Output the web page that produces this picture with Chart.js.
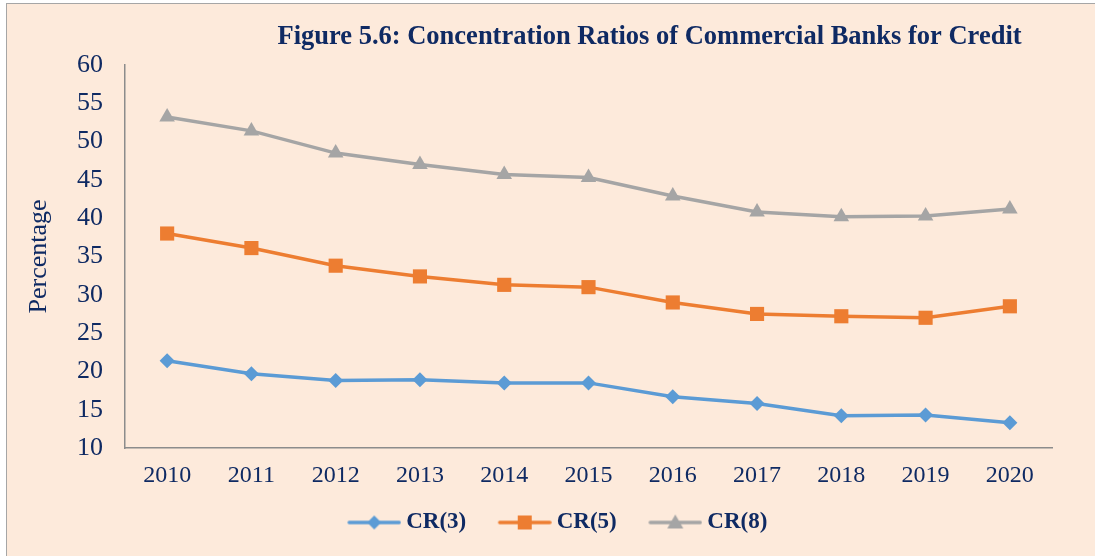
<!DOCTYPE html>
<html>
<head>
<meta charset="utf-8">
<script src="https://cdn.jsdelivr.net/npm/chart.js@4"></script>
<style>
  html, body { margin: 0; padding: 0; background: #ffffff; }
  #box {
    position: absolute; left: 6px; top: 3px;
    width: 1089px; height: 553px;
    border-top: 1px solid #a6a6a6; border-left: 1px solid #a6a6a6;
    background: #fdeadb;
  }
</style>
</head>
<body>
<div id="box"><canvas id="chartCR"></canvas></div>
<script>
const years = ['2010', '2011', '2012', '2013', '2014', '2015', '2016', '2017', '2018', '2019', '2020'];
const cr3 = [21.4, 19.7, 18.8, 18.9, 18.5, 18.5, 16.7, 15.8, 14.2, 14.3, 13.3];
const cr5 = [38.0, 36.1, 33.8, 32.4, 31.3, 31.0, 29.0, 27.5, 27.2, 27.0, 28.5];
const cr8 = [53.2, 51.4, 48.5, 47.0, 45.7, 45.3, 42.9, 40.8, 40.2, 40.3, 41.2];
const seriesNames = ['CR(3)', 'CR(5)', 'CR(8)'];
const yTicks = [10, 15, 20, 25, 30, 35, 40, 45, 50, 55, 60];

const navy = '#0f2a63';
const blue = '#5b9bd5', orange = '#ed7d31', grey = '#a5a5a5';

// little line + marker pictures for the legend (transparent strip on the left)
function legendIcon(color, shape) {
    const c = document.createElement('canvas');
    c.width = 82; c.height = 20;
    const g = c.getContext('2d');
    const x0 = 28, cx = x0 + 27, cy = 10;
    g.strokeStyle = color; g.lineWidth = 3.5; g.lineCap = 'round';
    g.beginPath(); g.moveTo(x0 + 2, cy); g.lineTo(x0 + 52, cy); g.stroke();
    g.fillStyle = color;
    g.beginPath();
    if (shape === 'diamond') {
        g.moveTo(cx, cy - 7); g.lineTo(cx + 7, cy); g.lineTo(cx, cy + 7); g.lineTo(cx - 7, cy);
    } else if (shape === 'square') {
        g.rect(cx - 7, cy - 7, 14, 14);
    } else {
        g.moveTo(cx, cy - 8); g.lineTo(cx + 8, cy + 6); g.lineTo(cx - 8, cy + 6);
    }
    g.closePath(); g.fill();
    return c;
}
const icons = [legendIcon(blue, 'diamond'), legendIcon(orange, 'square'), legendIcon(grey, 'triangle')];

const titlePlugin = {
    id: 'figTitle',
    afterDraw(chart) {
        const ctx = chart.ctx;
        ctx.save();
        ctx.font = 'bold 26.5px "Liberation Serif", "Times New Roman", serif';
        ctx.fillStyle = navy;
        ctx.textAlign = 'center';
        ctx.textBaseline = 'alphabetic';
        ctx.fillText('Figure 5.6: Concentration Ratios of Commercial Banks for Credit', chart.width * 0.59, 40);
        ctx.restore();
    }
};

const ctx = document.getElementById('chartCR');

new Chart(ctx, {
    type: 'line',
    data: {
        labels: years,
        datasets: [{
            label: seriesNames[0],
            data: cr3,
            borderColor: blue,
            backgroundColor: blue,
            borderWidth: 3.5,
            pointStyle: 'rectRot',
            pointRadius: 7.5,
            pointBorderWidth: 0
        }, {
            label: seriesNames[1],
            data: cr5,
            borderColor: orange,
            backgroundColor: orange,
            borderWidth: 3.5,
            pointStyle: 'rect',
            pointRadius: 10,
            pointBorderWidth: 0
        }, {
            label: seriesNames[2],
            data: cr8,
            borderColor: grey,
            backgroundColor: grey,
            borderWidth: 3.5,
            pointStyle: 'triangle',
            pointRadius: 9,
            pointBorderWidth: 0
        }]
    },
    options: {
        responsive: true,
        maintainAspectRatio: false,
        animation: false,
        layout: {
            padding: { top: 61, left: 34, right: 44, bottom: 13 }
        },
        scales: {
            x: {
                offset: true,
                grid: { display: false, drawTicks: false },
                border: { display: true, color: '#8c8c8c', width: 1.5 },
                ticks: {
                    padding: 13,
                    color: navy,
                    font: { family: '"Liberation Serif", "Times New Roman", serif', size: 24 }
                },
                afterFit: (axis) => { axis.height = 53; }
            },
            y: {
                min: 10,
                max: 60,
                grid: { display: false, drawTicks: false },
                border: { display: true, color: '#8c8c8c', width: 1.5 },
                afterBuildTicks: (axis) => { axis.ticks = yTicks.map(v => ({ value: v })); },
                ticks: {
                    padding: 22,
                    color: navy,
                    font: { family: '"Liberation Serif", "Times New Roman", serif', size: 26 }
                },
                title: {
                    display: true,
                    text: 'Percentage',
                    color: navy,
                    padding: { top: -17, bottom: 0 },
                    font: { family: '"Liberation Serif", "Times New Roman", serif', size: 26 }
                },
                afterFit: (axis) => { axis.width = 84; }
            }
        },
        plugins: {
            legend: {
                position: 'bottom',
                labels: {
                    usePointStyle: true,
                    pointStyleWidth: 69,
                    padding: 10,
                    color: navy,
                    font: { family: '"Liberation Serif", "Times New Roman", serif', size: 23, weight: 'bold' },
                    generateLabels: (chart) => Chart.defaults.plugins.legend.labels.generateLabels(chart)
                        .map((item, i) => Object.assign(item, { pointStyle: icons[i] }))
                }
            },
            tooltip: { enabled: false }
        }
    },
    plugins: [titlePlugin]
});
</script>
</body>
</html>
